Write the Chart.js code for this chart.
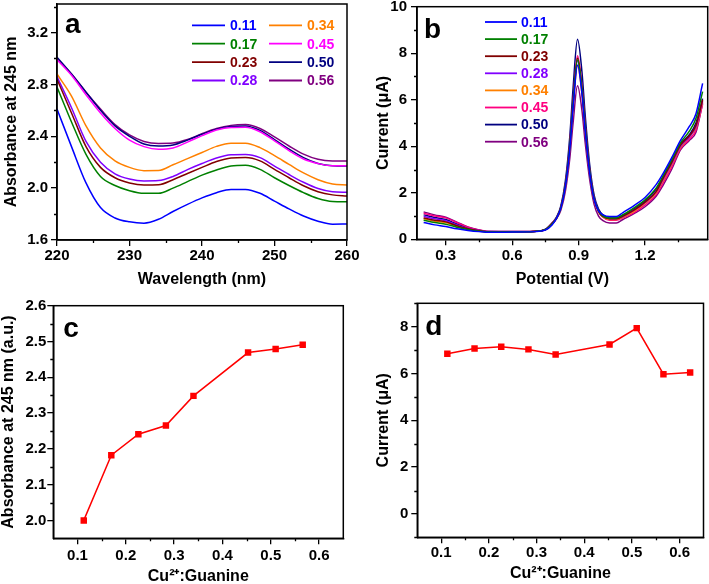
<!DOCTYPE html>
<html>
<head>
<meta charset="utf-8">
<script src="https://cdn.jsdelivr.net/npm/chart.js@4.4.1/dist/chart.umd.min.js"></script>
<style>
  html, body { margin: 0; padding: 0; background: #fff; overflow: hidden; width: 709px; height: 584px; }
  canvas { position: absolute; }
</style>
</head>
<body>
<canvas id="chartA" width="372" height="290" style="left:0;top:0"></canvas>
<canvas id="chartB" width="354" height="290" style="left:355px;top:0"></canvas>
<canvas id="chartC" width="355" height="294" style="left:0;top:290px"></canvas>
<canvas id="chartD" width="354" height="294" style="left:355px;top:290px"></canvas>
<script>
// Cu2+:Guanine ratios (legend labels)
const ratioLabels = ['0.11', '0.17', '0.23', '0.28', '0.34', '0.45', '0.50', '0.56'];

// (a) UV-vis spectra
const wavelength = [220, 222, 224, 226, 228, 230, 232, 234, 236, 238, 240, 242, 244, 246, 248, 250, 252, 254, 256, 258, 260];
const abs011 = [2.61, 2.32, 2.04, 1.85, 1.77, 1.74, 1.73, 1.76, 1.82, 1.875, 1.925, 1.965, 1.99, 1.99, 1.96, 1.90, 1.84, 1.785, 1.745, 1.722, 1.723];
const abs017 = [2.78, 2.51, 2.26, 2.09, 2.02, 1.98, 1.96, 1.96, 2.00, 2.05, 2.10, 2.14, 2.17, 2.176, 2.145, 2.08, 2.02, 1.965, 1.92, 1.897, 1.895];
const abs023 = [2.84, 2.58, 2.32, 2.16, 2.08, 2.04, 2.024, 2.026, 2.065, 2.113, 2.16, 2.205, 2.232, 2.236, 2.21, 2.145, 2.08, 2.018, 1.972, 1.948, 1.94];
const abs028 = [2.86, 2.62, 2.36, 2.20, 2.11, 2.07, 2.055, 2.058, 2.09, 2.143, 2.19, 2.232, 2.257, 2.26, 2.235, 2.17, 2.105, 2.045, 1.997, 1.972, 1.968];
const abs034 = [2.88, 2.71, 2.48, 2.31, 2.21, 2.16, 2.135, 2.136, 2.18, 2.228, 2.275, 2.322, 2.346, 2.346, 2.312, 2.25, 2.183, 2.117, 2.065, 2.032, 2.024];
const abs045 = [2.99, 2.87, 2.72, 2.58, 2.46, 2.37, 2.32, 2.30, 2.31, 2.355, 2.405, 2.448, 2.468, 2.47, 2.435, 2.365, 2.29, 2.225, 2.19, 2.172, 2.172];
const abs050 = [3.01, 2.88, 2.74, 2.60, 2.48, 2.40, 2.34, 2.325, 2.333, 2.37, 2.415, 2.455, 2.476, 2.48, 2.445, 2.375, 2.30, 2.235, 2.19, 2.172, 2.17];
const abs056 = [3.00, 2.88, 2.74, 2.61, 2.49, 2.41, 2.36, 2.345, 2.348, 2.375, 2.42, 2.46, 2.484, 2.49, 2.46, 2.395, 2.325, 2.262, 2.222, 2.21, 2.21];

// (b) DPV curves
const potential = [0.20, 0.25, 0.30, 0.35, 0.40, 0.45, 0.50, 0.60, 0.70, 0.75, 0.78,
  0.80, 0.82, 0.84, 0.86, 0.875, 0.895, 0.915, 0.93, 0.95, 0.97, 0.99, 1.01, 1.04, 1.07,
  1.10, 1.15, 1.20, 1.25, 1.28, 1.32, 1.36, 1.40, 1.43, 1.46];
const cur011 = [0.72, 0.62, 0.55, 0.45, 0.38, 0.33, 0.30, 0.31, 0.33, 0.40, 0.62,
  0.90, 1.35, 2.26, 3.89, 5.66, 7.49, 6.27, 4.64, 2.85, 1.72, 1.22, 1.05, 0.98, 0.98,
  1.15, 1.45, 1.80, 2.35, 2.80, 3.50, 4.25, 4.85, 5.40, 6.70];
const cur017 = [0.82, 0.72, 0.65, 0.52, 0.42, 0.35, 0.31, 0.32, 0.34, 0.42, 0.66,
  0.91, 1.37, 2.31, 4.00, 5.82, 7.72, 6.46, 4.77, 2.92, 1.75, 1.23, 1.00, 0.92, 0.92,
  1.05, 1.35, 1.70, 2.20, 2.70, 3.40, 4.15, 4.65, 5.20, 6.35];
const cur023 = [0.92, 0.82, 0.75, 0.58, 0.45, 0.37, 0.32, 0.32, 0.34, 0.42, 0.68,
  0.91, 1.37, 2.33, 4.03, 5.88, 7.79, 6.51, 4.81, 2.94, 1.76, 1.20, 0.98, 0.88, 0.88,
  1.00, 1.25, 1.60, 2.05, 2.60, 3.30, 4.05, 4.45, 4.90, 6.00];
const cur028 = [0.98, 0.88, 0.80, 0.62, 0.47, 0.38, 0.32, 0.32, 0.34, 0.42, 0.68,
  0.91, 1.36, 2.30, 3.98, 5.80, 7.68, 6.42, 4.75, 2.90, 1.75, 1.20, 0.98, 0.88, 0.88,
  0.98, 1.25, 1.58, 2.05, 2.55, 3.25, 4.00, 4.40, 4.85, 5.95];
const cur034 = [0.88, 0.78, 0.72, 0.56, 0.44, 0.36, 0.31, 0.32, 0.34, 0.41, 0.66,
  0.90, 1.34, 2.25, 3.88, 5.63, 7.46, 6.24, 4.62, 2.84, 1.70, 1.17, 0.95, 0.85, 0.85,
  0.95, 1.20, 1.55, 2.00, 2.50, 3.20, 3.95, 4.40, 4.80, 5.90];
const cur045 = [1.12, 1.00, 0.92, 0.72, 0.52, 0.40, 0.33, 0.33, 0.35, 0.43, 0.70,
  0.92, 1.38, 2.35, 4.08, 5.95, 7.89, 6.60, 4.87, 2.97, 1.78, 1.20, 0.95, 0.82, 0.82,
  0.92, 1.15, 1.48, 1.92, 2.40, 3.10, 3.90, 4.30, 4.70, 5.80];
const cur050 = [1.05, 0.94, 0.85, 0.66, 0.50, 0.39, 0.33, 0.33, 0.35, 0.43, 0.70,
  0.95, 1.45, 2.50, 4.40, 6.50, 8.60, 7.20, 5.30, 3.20, 1.90, 1.30, 1.05, 0.92, 0.92,
  1.05, 1.30, 1.65, 2.15, 2.65, 3.35, 4.10, 4.50, 5.00, 6.05];
const cur056 = [1.18, 1.05, 0.95, 0.74, 0.53, 0.40, 0.33, 0.32, 0.34, 0.42, 0.66,
  0.88, 1.26, 2.06, 3.47, 5.00, 6.60, 5.54, 4.12, 2.56, 1.50, 1.00, 0.80, 0.70, 0.70,
  0.85, 1.10, 1.40, 1.85, 2.30, 3.00, 3.85, 4.25, 4.60, 5.85];

// (c) absorbance at 245 nm vs ratio
const ratioC = [0.113, 0.170, 0.226, 0.283, 0.340, 0.453, 0.510, 0.566];
const abs245 = [2.00, 2.182, 2.241, 2.265, 2.348, 2.469, 2.479, 2.491];

// (d) peak current vs ratio
const ratioD = [0.113, 0.170, 0.226, 0.283, 0.340, 0.453, 0.510, 0.566, 0.622];
const peakCurrent = [6.84, 7.07, 7.14, 7.03, 6.81, 7.24, 7.94, 5.97, 6.04];

const colorsA = ['#0000ff', '#008000', '#800000', '#8000ff', '#ff8000', '#ff00ff', '#000080', '#800080'];
const colorsB = ['#0000ff', '#008000', '#800000', '#8000ff', '#ff8000', '#ff0080', '#000080', '#800080'];

const FONT = '"Liberation Sans", Arial, sans-serif';

function axis(o) {
  return {
    type: 'linear',
    position: o.pos,
    min: o.min,
    max: o.max,
    minorTicks: o.minor,
    afterBuildTicks: s => { s.ticks = o.major.map(v => ({ value: v })); },
    afterFit: s => {
      if (o.pos === 'left') { s.width = o.size; s.paddingTop = 0; s.paddingBottom = 0; }
      else { s.height = o.size; s.paddingLeft = 0; s.paddingRight = 0; }
    },
    grid: { display: true, drawOnChartArea: false, drawTicks: true, tickLength: 6, color: '#000', lineWidth: 1.3 },
    border: { display: true, color: '#000', width: 1.5 },
    ticks: {
      color: '#000',
      padding: o.pad,
      autoSkip: false,
      maxRotation: 0,
      font: { family: FONT, size: 15, weight: 'bold' },
      callback: v => v.toFixed(o.dec)
    },
    title: {
      display: true,
      text: o.title,
      color: '#000',
      font: { family: FONT, size: 16, weight: 'bold', lineHeight: 1.2 },
      padding: o.tpad
    }
  };
}

// box around the plot, short minor ticks, panel letter and legend
const framePlugin = {
  id: 'frame',
  afterDraw(chart, args, opts) {
    const { ctx, chartArea: a } = chart;
    ctx.save();
    ctx.strokeStyle = '#000';
    ctx.lineWidth = 1.5;
    ctx.strokeRect(a.left, a.top, a.right - a.left, a.bottom - a.top);
    ctx.lineWidth = 1.3;
    const sx = chart.scales.x, sy = chart.scales.y;
    ctx.beginPath();
    (sx.options.minorTicks || []).forEach(v => {
      const p = Math.round(sx.getPixelForValue(v)) + 0.5;
      ctx.moveTo(p, a.bottom); ctx.lineTo(p, a.bottom + 3);
    });
    (sy.options.minorTicks || []).forEach(v => {
      const p = Math.round(sy.getPixelForValue(v)) + 0.5;
      ctx.moveTo(a.left, p); ctx.lineTo(a.left - 3, p);
    });
    ctx.stroke();
    ctx.fillStyle = '#000';
    ctx.font = 'bold 28px ' + FONT;
    ctx.textBaseline = 'alphabetic';
    ctx.fillText(opts.letter, a.left + opts.lx, a.top + opts.ly);
    if (opts.legend) {
      const L = opts.legend;
      ctx.font = 'bold 14px ' + FONT;
      ctx.textBaseline = 'middle';
      chart.data.datasets.forEach((ds, i) => {
        const col = Math.floor(i / L.rows);
        const row = i % L.rows;
        const x = L.x[col];
        const y = L.y + row * L.dy;
        ctx.strokeStyle = ds.borderColor;
        ctx.lineWidth = 1.8;
        ctx.beginPath();
        ctx.moveTo(x, y);
        ctx.lineTo(x + L.len, y);
        ctx.stroke();
        ctx.fillStyle = ds.borderColor;
        ctx.fillText(ds.label, x + L.len + L.gap, y + 1);
      });
    }
    ctx.restore();
  }
};

function curveSets(xs, series, colors) {
  return series.map((ys, i) => ({
    label: ratioLabels[i],
    data: xs.map((x, j) => ({ x: x, y: ys[j] })),
    borderColor: colors[i],
    backgroundColor: colors[i],
    borderWidth: 1.5,
    pointRadius: 0,
    cubicInterpolationMode: 'monotone'
  }));
}

function baseOptions(padding, scales, frame) {
  return {
    responsive: false,
    animation: false,
    devicePixelRatio: 1,
    layout: { padding: padding },
    plugins: { legend: { display: false }, tooltip: { enabled: false }, frame: frame },
    scales: scales
  };
}

// (a)
new Chart(document.getElementById('chartA'), {
  type: 'line',
  data: { datasets: curveSets(wavelength, [abs011, abs017, abs023, abs028, abs034, abs045, abs050, abs056], colorsA) },
  options: baseOptions({ top: 4, right: 25, left: 0, bottom: 0 }, {
    x: axis({ pos: 'bottom', min: 220, max: 260, size: 50, pad: 1, dec: 0,
      major: [220, 230, 240, 250, 260], minor: [225, 235, 245, 255],
      title: 'Wavelength (nm)', tpad: { top: 0, bottom: 0.4 } }),
    y: axis({ pos: 'left', min: 1.6, max: 3.42, size: 57, pad: 3, dec: 1,
      major: [1.6, 2.0, 2.4, 2.8, 3.2], minor: [1.8, 2.2, 2.6, 3.0, 3.4],
      title: 'Absorbance at 245 nm', tpad: { top: 2.4, bottom: 0 } })
  }, { letter: 'a', lx: 8, ly: 29, legend: { x: [192, 269], y: 25.3, dy: 18.4, rows: 4, len: 33, gap: 5 } }),
  plugins: [framePlugin]
});

// (b)
new Chart(document.getElementById('chartB'), {
  type: 'line',
  data: { datasets: curveSets(potential, [cur011, cur017, cur023, cur028, cur034, cur045, cur050, cur056], colorsB) },
  options: baseOptions({ top: 6.7, right: 1.3, left: 0, bottom: 0 }, {
    x: axis({ pos: 'bottom', min: 0.17, max: 1.483, size: 50.7, pad: 2, dec: 1,
      major: [0.3, 0.6, 0.9, 1.2], minor: [0.45, 0.75, 1.05, 1.35],
      title: 'Potential (V)', tpad: { top: 0, bottom: 0.4 } }),
    y: axis({ pos: 'left', min: 0, max: 10, size: 62, pad: 4, dec: 0,
      major: [0, 2, 4, 6, 8, 10], minor: [1, 3, 5, 7, 9],
      title: 'Current (\u03bcA)', tpad: { top: 18.7, bottom: 0 } })
  }, { letter: 'b', lx: 7, ly: 31, legend: { x: [130], y: 22, dy: 17.1, rows: 8, len: 32, gap: 4 } }),
  plugins: [framePlugin]
});

function pointSet(xs, ys) {
  return [{
    label: 'ratio',
    data: xs.map((x, j) => ({ x: x, y: ys[j] })),
    borderColor: '#ff0000',
    backgroundColor: '#ff0000',
    borderWidth: 1.5,
    pointStyle: 'rect',
    pointRadius: 3.5,
    tension: 0
  }];
}

const ratioMajor = [0.1, 0.2, 0.3, 0.4, 0.5, 0.6];
const ratioMinor = [0.15, 0.25, 0.35, 0.45, 0.55];

// (c)
new Chart(document.getElementById('chartC'), {
  type: 'line',
  data: { datasets: pointSet(ratioC, abs245) },
  options: baseOptions({ top: 15.7, right: 11.7, left: 0, bottom: 0 }, {
    x: axis({ pos: 'bottom', min: 0.05, max: 0.65, size: 45.7, pad: 3, dec: 1,
      major: ratioMajor, minor: ratioMinor,
      title: 'Cu\u00b2\u207a:Guanine', tpad: { top: 0, bottom: -2.3 } }),
    y: axis({ pos: 'left', min: 1.95, max: 2.6, size: 53.3, pad: 1, dec: 1,
      major: [2.0, 2.1, 2.2, 2.3, 2.4, 2.5, 2.6], minor: [2.05, 2.15, 2.25, 2.35, 2.45, 2.55],
      title: 'Absorbance at 245 nm (a.u.)', tpad: { top: -1.3, bottom: 0 } })
  }, { letter: 'c', lx: 10, ly: 31 }),
  plugins: [framePlugin]
});

// (d)
new Chart(document.getElementById('chartD'), {
  type: 'line',
  data: { datasets: pointSet(ratioD, peakCurrent) },
  options: baseOptions({ top: 13.3, right: 1.3, left: 0, bottom: 0 }, {
    x: axis({ pos: 'bottom', min: 0.05, max: 0.65, size: 46.7, pad: 1, dec: 1,
      major: ratioMajor, minor: ratioMinor,
      title: 'Cu\u00b2\u207a:Guanine', tpad: { top: 0, bottom: 1.1 } }),
    y: axis({ pos: 'left', min: -1, max: 9, size: 62.3, pad: 3, dec: 0,
      major: [0, 2, 4, 6, 8], minor: [-1, 1, 3, 5, 7, 9],
      title: 'Current (\u03bcA)', tpad: { top: 18.7, bottom: 0 } })
  }, { letter: 'd', lx: 8, ly: 32 }),
  plugins: [framePlugin]
});
</script>
</body>
</html>
